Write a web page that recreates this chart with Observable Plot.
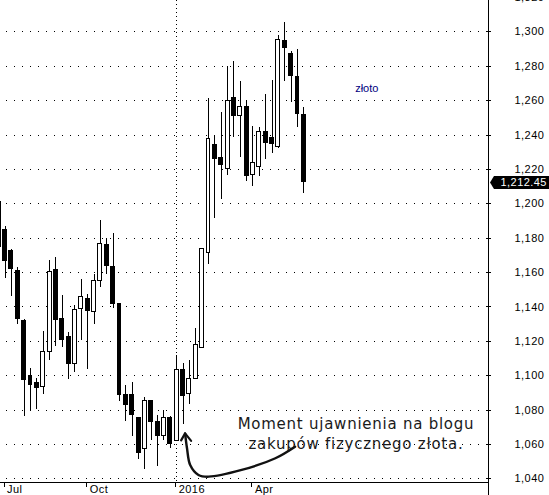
<!DOCTYPE html>
<html>
<head>
<meta charset="utf-8">
<script src="https://cdn.jsdelivr.net/npm/d3@7"></script>
<script src="https://cdn.jsdelivr.net/npm/@observablehq/plot@0.6"></script>
<style>
html, body { margin: 0; padding: 0; background: #fff; }
#chart svg { display: block; }
text[aria-label="axis-label"] { letter-spacing: 0.45px; }
text[aria-label="note"] { letter-spacing: 0.75px; }
</style>
</head>
<body>
<div id="chart"></div>
<script>
// Weekly gold candles (index -1 is the partly hidden first week at the left edge)
const firstIndex = -1;
const opens  = [1201, 1184.5, 1172.3, 1161.2, 1132.1, 1099.6, 1095.5, 1093.5, 1113.7, 1161.8, 1133.3, 1122.8, 1106.7, 1138.7, 1144.9, 1137.0, 1155.2, 1175.8, 1163.0, 1142.0, 1088.9, 1088.7, 1075.3, 1057.3, 1085.2, 1073.2, 1064.8, 1075.3, 1062.1, 1103.4, 1089.5, 1098.2, 1116.1, 1171.4, 1234.4, 1226.4, 1220.3, 1261.3, 1251.2, 1256.1, 1216.8, 1221.5, 1242.0, 1238.1, 1233.2, 1294.7, 1287.3, 1273.6, 1251.4];
const highs  = [1203, 1186.8, 1173.4, 1162.8, 1132.5, 1104.4, 1098.2, 1125.7, 1167.0, 1168.8, 1146.7, 1125.0, 1140.7, 1156.0, 1147.3, 1158.9, 1190.3, 1179.6, 1182.9, 1142.3, 1094.3, 1096.0, 1075.6, 1087.3, 1085.5, 1077.0, 1080.0, 1076.1, 1111.9, 1107.4, 1108.9, 1127.3, 1173.8, 1261.3, 1239.8, 1253.3, 1280.1, 1283.0, 1271.3, 1259.8, 1245.1, 1244.5, 1263.9, 1271.5, 1298.2, 1305.5, 1288.9, 1289.6, 1256.1];
const lows   = [1172, 1156.8, 1146.3, 1130.0, 1076.3, 1079.4, 1080.4, 1089.3, 1109.1, 1117.2, 1116.6, 1097.8, 1101.9, 1120.5, 1103.8, 1130.0, 1151.5, 1158.9, 1139.3, 1085.2, 1073.6, 1064.8, 1051.4, 1045.6, 1062.1, 1047.0, 1062.1, 1057.6, 1062.0, 1071.7, 1083.3, 1098.0, 1116.0, 1165.0, 1191.7, 1202.5, 1216.6, 1238.5, 1227.1, 1213.1, 1210.2, 1216.2, 1225.6, 1229.1, 1232.0, 1271.1, 1258.8, 1244.7, 1206.1];
const closes = [1175, 1167.0, 1162.2, 1132.9, 1097.8, 1094.5, 1092.8, 1113.9, 1160.6, 1132.3, 1120.7, 1106.7, 1138.5, 1145.9, 1137.6, 1155.4, 1176.9, 1163.7, 1141.6, 1088.9, 1083.1, 1077.0, 1055.3, 1085.2, 1073.3, 1064.8, 1075.3, 1060.2, 1103.6, 1088.3, 1098.2, 1117.6, 1173.7, 1237.9, 1226.0, 1222.5, 1259.6, 1251.2, 1256.1, 1216.0, 1223.8, 1242.0, 1235.5, 1234.8, 1295.1, 1290.4, 1274.6, 1252.3, 1212.45];

const yTicks = [1040, 1060, 1080, 1100, 1120, 1140, 1160, 1180, 1200, 1220, 1240, 1260, 1280, 1300, 1320];
const monthTickIndex = [0, 13, 27, 39];
const monthTickLabels = ["Jul", "Oct", "2016", "Apr"];
const yearBoundaryIndex = [27];
const lastPrice = 1212.45;
const seriesLabel = "złoto";
const seriesLabelAt = {i: 56.9, v: 1267.4};
const noteLines = ["Moment ujawnienia na blogu", "zakupów fizycznego złota."];
const noteAt = {i: 55.2, v: 1067.2};
// annotation arrow path (candle index, price), from its tail to its tip
const arrowPath = [
  {i: 45.7, v: 1058.4}, {i: 42.6, v: 1051.7}, {i: 37.3, v: 1044.9}, {i: 32.1, v: 1041.0},
  {i: 30.5, v: 1042.0}, {i: 29.2, v: 1047.8}, {i: 28.7, v: 1057.5}, {i: 28.4, v: 1066.2}
];

const xDomain = [-0.72, 76.05];
const yDomain = [1037.9, 1318.3];
const half = 0.31;

const candles = opens.map((o, k) => ({i: k + firstIndex, o, h: highs[k], l: lows[k], c: closes[k]}));
const fmt = d3.format(",");
const fmt2 = d3.format(",.2f");

function arrowMark(index, scales) {
  const {x, y} = scales;
  const pts = arrowPath.map(p => [x(p.i), y(p.v)]);
  const g = d3.create("svg:g");
  g.append("path")
    .attr("d", d3.line().curve(d3.curveCatmullRom)(pts))
    .attr("fill", "none").attr("stroke", "#111").attr("stroke-width", 2.4)
    .attr("stroke-linecap", "round").attr("stroke-linejoin", "round");
  const [tx, ty] = pts[pts.length - 1];
  g.append("path")
    .attr("d", `M${tx - 4},${ty + 7}L${tx},${ty}L${tx + 6},${ty + 7.5}`)
    .attr("fill", "none").attr("stroke", "#111").attr("stroke-width", 2.2)
    .attr("stroke-linecap", "round").attr("stroke-linejoin", "round");
  return g.node();
}

function priceTag(index, scales, values, dims) {
  const X = scales.x(xDomain[1]);
  const Y = scales.y(lastPrice);
  const W = (dims && dims.width) || 549;
  const g = d3.create("svg:g");
  g.append("path")
    .attr("d", `M${X + 2},${Y + 0.5}L${X + 6},${Y - 6}H${W}V${Y + 7}H${X + 6}Z`)
    .attr("fill", "#000");
  g.append("text")
    .attr("x", X + 12.5).attr("y", Y + 4.5)
    .attr("text-anchor", "start")
    .attr("fill", "#fff").attr("font-size", 11)
    .attr("font-family", "Liberation Sans, Arial, sans-serif")
    .attr("letter-spacing", "0.45px")
    .text(fmt2(lastPrice));
  return g.node();
}

const chart = Plot.plot({
  width: 549,
  height: 495,
  marginLeft: 0,
  marginRight: 61,
  marginTop: 0,
  marginBottom: 13,
  x: {domain: xDomain, axis: null},
  y: {domain: yDomain, axis: null},
  style: {background: "#fff", fontFamily: "Liberation Sans, Arial, sans-serif", fontSize: "11px", color: "#000"},
  marks: [
    Plot.ruleY(yTicks, {stroke: "#000", strokeDasharray: "1,7", strokeDashoffset: 2, shapeRendering: "crispEdges"}),
    Plot.ruleX(yearBoundaryIndex, {stroke: "#000", strokeDasharray: "1,3", shapeRendering: "crispEdges"}),
    Plot.ruleX(candles, {x: "i", y1: "l", y2: "h", stroke: "#000", shapeRendering: "crispEdges"}),
    Plot.rect(candles.filter(d => d.c >= d.o), {x1: d => d.i - half, x2: d => d.i + half, y1: "o", y2: "c", fill: "#fff", stroke: "#000", shapeRendering: "crispEdges"}),
    Plot.rect(candles.filter(d => d.c < d.o), {x1: d => d.i - half, x2: d => d.i + half, y1: "c", y2: "o", fill: "#000", stroke: "#000", shapeRendering: "crispEdges"}),
    // axes
    Plot.ruleY([yDomain[0]], {x1: xDomain[0], x2: xDomain[1], stroke: "#000", shapeRendering: "crispEdges"}),
    Plot.ruleX([xDomain[1]], {y1: yDomain[0] - 8, y2: yDomain[1], stroke: "#000", shapeRendering: "crispEdges"}),
    Plot.ruleY(yTicks, {x1: xDomain[1] - 2 / 6.36, x2: xDomain[1] + 3 / 6.36, stroke: "#000", shapeRendering: "crispEdges"}),
    Plot.text(yTicks, {x: xDomain[1], y: d => d, text: d => fmt(d), dx: 26, textAnchor: "start", fill: "#000", ariaLabel: () => "axis-label"}),
    Plot.ruleX(monthTickIndex, {y1: yDomain[0], y2: yDomain[0] - 3, stroke: "#000", dx: -1, shapeRendering: "crispEdges"}),
    Plot.text(monthTickIndex, {x: d => d, y: yDomain[0], text: (d, k) => monthTickLabels[k], dx: 2, dy: 7, textAnchor: "start", fill: "#000", ariaLabel: () => "axis-label"}),
    // labels and annotation
    Plot.text([seriesLabel], {x: seriesLabelAt.i, y: seriesLabelAt.v, text: d => d, fill: "#000080", fontSize: 11}),
    Plot.text([noteLines.join("\n")], {x: noteAt.i, y: noteAt.v, text: d => d, fontFamily: "DejaVu Sans, Verdana, sans-serif", fontSize: 15, lineHeight: 1.333, fill: "#1a1a1a", textAnchor: "middle", ariaLabel: () => "note"}),
    arrowMark,
    priceTag
  ]
});
document.getElementById("chart").appendChild(chart);
</script>
</body>
</html>
